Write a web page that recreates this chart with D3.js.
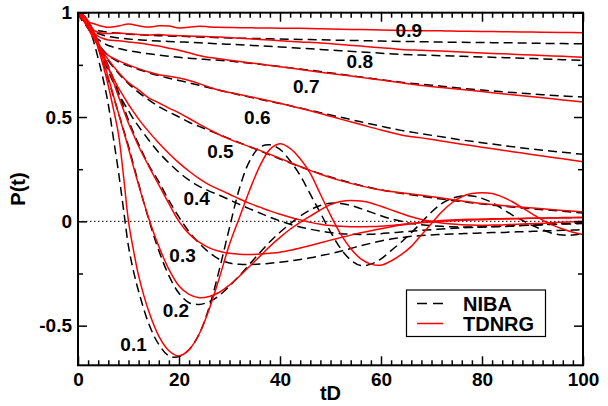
<!DOCTYPE html>
<html><head><meta charset="utf-8">
<script src="https://cdn.jsdelivr.net/npm/d3@7"></script>
<style>
html,body{margin:0;padding:0;background:#fff;}
svg{display:block;}
text{font-family:"Liberation Sans",Arial,Helvetica,sans-serif;font-weight:bold;fill:#000;}
</style></head><body>
<svg id="chart" width="608" height="406"></svg>
<script>
// ---------- data ----------
const tFast = [0,1,2,3,4,5,6,7,8,9,10,11,12,14,16,18,20,22,24,26,28,30,32,34,36,38,40,42,44,46,48,50,52,54,56,58,60,62,64,66,68,70,72,74,76,78,80,82,84,86,88,90,92,94,96,98,100];
const tSlow = [0,1,2,3,4,5,6,8,10,12,14,16,18,20,22,24,26,28,30,32,36,40,44,48,52,56,60,64,68,72,76,80,84,88,92,96,100];

const niba01 = [1,0.985,0.94,0.87,0.78,0.68,0.56,0.40,0.24,0.06,-0.12,-0.24,-0.335,-0.49,-0.59,-0.645,-0.648,-0.615,-0.54,-0.41,-0.23,-0.03,0.16,0.29,0.355,0.367,0.345,0.29,0.22,0.13,0.04,-0.05,-0.13,-0.185,-0.212,-0.205,-0.18,-0.14,-0.1,-0.055,-0.005,0.045,0.085,0.11,0.122,0.122,0.11,0.09,0.06,0.03,0.005,-0.02,-0.04,-0.058,-0.066,-0.066,-0.058];
const tdnrg01 = [1,0.99,0.955,0.9,0.83,0.745,0.65,0.54,0.42,0.22,0.0,-0.14,-0.26,-0.43,-0.55,-0.62,-0.645,-0.615,-0.54,-0.42,-0.27,-0.11,0.02,0.15,0.265,0.345,0.372,0.35,0.3,0.23,0.13,0.03,-0.06,-0.13,-0.18,-0.205,-0.21,-0.19,-0.16,-0.12,-0.065,-0.01,0.045,0.088,0.118,0.133,0.137,0.133,0.117,0.094,0.065,0.035,0.006,-0.018,-0.037,-0.052,-0.063];

const niba02 = [1,0.99,0.955,0.9,0.835,0.76,0.68,0.6,0.52,0.44,0.36,0.27,0.18,0.01,-0.14,-0.26,-0.345,-0.39,-0.398,-0.385,-0.355,-0.31,-0.26,-0.205,-0.15,-0.098,-0.052,-0.012,0.025,0.055,0.076,0.087,0.086,0.076,0.061,0.044,0.027,0.012,0.0,-0.01,-0.016,-0.021,-0.024,-0.026,-0.027,-0.027,-0.027,-0.026,-0.025,-0.023,-0.02,-0.018,-0.016,-0.013,-0.011,-0.009,-0.007];
const tdnrg02 = [1,0.99,0.96,0.91,0.845,0.77,0.69,0.605,0.52,0.435,0.35,0.26,0.175,0.015,-0.12,-0.23,-0.31,-0.35,-0.366,-0.36,-0.34,-0.305,-0.262,-0.215,-0.168,-0.12,-0.077,-0.038,-0.005,0.025,0.055,0.08,0.095,0.1,0.097,0.088,0.072,0.055,0.038,0.022,0.009,0.0,-0.008,-0.013,-0.016,-0.018,-0.019,-0.018,-0.017,-0.015,-0.013,-0.011,-0.009,-0.006,-0.004,-0.002,0.0];

const niba03 = [1,0.99,0.96,0.915,0.86,0.8,0.745,0.685,0.62,0.55,0.485,0.425,0.37,0.27,0.19,0.1,0.02,-0.05,-0.105,-0.15,-0.182,-0.2,-0.206,-0.207,-0.205,-0.201,-0.196,-0.19,-0.183,-0.175,-0.165,-0.155,-0.143,-0.13,-0.117,-0.105,-0.094,-0.085,-0.078,-0.072,-0.068,-0.065,-0.063,-0.061,-0.059,-0.057,-0.056,-0.054,-0.053,-0.051,-0.05,-0.048,-0.046,-0.045,-0.043,-0.042,-0.04];
const tdnrg03 = [1,0.99,0.96,0.915,0.86,0.8,0.74,0.67,0.6,0.535,0.47,0.415,0.36,0.265,0.175,0.085,0.0,-0.06,-0.1,-0.127,-0.143,-0.153,-0.158,-0.159,-0.157,-0.153,-0.148,-0.139,-0.128,-0.116,-0.103,-0.09,-0.078,-0.066,-0.055,-0.045,-0.035,-0.026,-0.018,-0.011,-0.005,0.0,0.004,0.007,0.009,0.01,0.011,0.012,0.013,0.014,0.014,0.015,0.015,0.016,0.016,0.017,0.017];

const niba04 = [1,0.985,0.95,0.9,0.84,0.78,0.72,0.665,0.615,0.57,0.53,0.49,0.455,0.39,0.33,0.28,0.235,0.197,0.168,0.145,0.125,0.103,0.081,0.06,0.04,0.02,0.002,-0.014,-0.027,-0.038,-0.047,-0.054,-0.059,-0.062,-0.063,-0.062,-0.059,-0.055,-0.051,-0.047,-0.043,-0.04,-0.037,-0.034,-0.031,-0.029,-0.027,-0.025,-0.023,-0.021,-0.019,-0.018,-0.016,-0.015,-0.013,-0.012,-0.01];
const tdnrg04 = [1,0.985,0.95,0.9,0.845,0.79,0.735,0.685,0.64,0.6,0.56,0.525,0.49,0.43,0.375,0.325,0.28,0.24,0.205,0.175,0.152,0.13,0.107,0.086,0.068,0.05,0.034,0.02,0.007,-0.005,-0.014,-0.02,-0.024,-0.026,-0.026,-0.025,-0.023,-0.02,-0.015,-0.01,-0.006,-0.003,0.0,0.003,0.005,0.007,0.008,0.01,0.011,0.012,0.014,0.015,0.016,0.017,0.018,0.019,0.02];

const niba05 = [1,0.97,0.93,0.885,0.845,0.805,0.77,0.71,0.66,0.618,0.582,0.55,0.524,0.5,0.475,0.455,0.435,0.416,0.396,0.377,0.338,0.299,0.262,0.228,0.198,0.172,0.151,0.134,0.12,0.107,0.095,0.083,0.073,0.064,0.056,0.048,0.04];
const tdnrg05 = [1,0.975,0.935,0.89,0.85,0.81,0.775,0.715,0.665,0.63,0.592,0.568,0.543,0.52,0.493,0.466,0.44,0.415,0.394,0.375,0.34,0.302,0.263,0.226,0.195,0.17,0.15,0.137,0.125,0.112,0.098,0.085,0.076,0.068,0.06,0.052,0.045];

const niba06 = [1,0.965,0.925,0.885,0.85,0.82,0.795,0.765,0.745,0.728,0.712,0.698,0.686,0.675,0.664,0.652,0.64,0.628,0.617,0.606,0.585,0.565,0.543,0.521,0.499,0.477,0.456,0.436,0.42,0.405,0.39,0.377,0.364,0.352,0.341,0.331,0.321];
const tdnrg06 = [1,0.97,0.925,0.88,0.845,0.815,0.795,0.77,0.75,0.732,0.716,0.703,0.695,0.687,0.675,0.66,0.643,0.628,0.618,0.608,0.588,0.566,0.542,0.517,0.49,0.464,0.438,0.414,0.4,0.385,0.37,0.355,0.341,0.327,0.313,0.3,0.286];

const niba07 = [1,0.96,0.925,0.895,0.872,0.855,0.843,0.828,0.818,0.81,0.803,0.797,0.791,0.786,0.782,0.778,0.775,0.772,0.768,0.763,0.753,0.742,0.73,0.718,0.705,0.692,0.679,0.667,0.657,0.648,0.638,0.629,0.621,0.614,0.607,0.601,0.596];
const tdnrg07 = [1,0.965,0.93,0.905,0.888,0.876,0.869,0.865,0.86,0.855,0.848,0.84,0.83,0.82,0.808,0.795,0.785,0.779,0.772,0.766,0.754,0.741,0.728,0.715,0.703,0.69,0.677,0.664,0.651,0.641,0.632,0.622,0.612,0.602,0.592,0.582,0.572];

const niba08 = [1,0.96,0.93,0.912,0.9,0.892,0.886,0.879,0.874,0.87,0.867,0.864,0.862,0.86,0.858,0.856,0.853,0.851,0.849,0.846,0.841,0.836,0.83,0.824,0.818,0.812,0.806,0.8,0.797,0.794,0.791,0.788,0.785,0.782,0.778,0.775,0.772];
const tdnrg08 = [1,0.965,0.935,0.917,0.906,0.901,0.9,0.903,0.899,0.895,0.893,0.895,0.892,0.89,0.888,0.887,0.885,0.883,0.881,0.878,0.872,0.866,0.86,0.855,0.848,0.84,0.832,0.824,0.82,0.816,0.812,0.807,0.803,0.799,0.795,0.791,0.787];

const niba09 = [1,0.955,0.935,0.923,0.915,0.91,0.906,0.901,0.897,0.894,0.892,0.89,0.888,0.887,0.885,0.883,0.882,0.88,0.879,0.878,0.876,0.874,0.872,0.87,0.868,0.866,0.864,0.862,0.861,0.859,0.858,0.857,0.856,0.855,0.853,0.852,0.851];
const tdnrg09 = [1,0.965,0.955,0.948,0.94,0.934,0.93,0.936,0.946,0.937,0.931,0.937,0.936,0.927,0.93,0.935,0.932,0.93,0.929,0.928,0.927,0.926,0.925,0.923,0.921,0.919,0.917,0.915,0.914,0.913,0.911,0.91,0.909,0.908,0.906,0.905,0.904];

const curveLabels = ["0.1","0.2","0.3","0.4","0.5","0.6","0.7","0.8","0.9"];
const labelT = [11.0, 19.4, 20.7, 23.5, 28.2, 35.5, 45.2, 55.8, 65.5];
const labelP = [-0.588, -0.425, -0.161, 0.109, 0.335, 0.497, 0.646, 0.766, 0.917];

const xMajorTicks = [0,20,40,60,80,100];
const yMajorTicks = [-0.5,0,0.5,1];
const yMinorTicks = [-0.25,0.25,0.75];
const legendNames = ["NIBA","TDNRG"];

// ---------- table built from arrays ----------
const series = [
  {t:tFast, niba:niba01, tdnrg:tdnrg01},
  {t:tFast, niba:niba02, tdnrg:tdnrg02},
  {t:tFast, niba:niba03, tdnrg:tdnrg03},
  {t:tFast, niba:niba04, tdnrg:tdnrg04},
  {t:tSlow, niba:niba05, tdnrg:tdnrg05},
  {t:tSlow, niba:niba06, tdnrg:tdnrg06},
  {t:tSlow, niba:niba07, tdnrg:tdnrg07},
  {t:tSlow, niba:niba08, tdnrg:tdnrg08},
  {t:tSlow, niba:niba09, tdnrg:tdnrg09}
];

// ---------- layout ----------
const X0 = 78, X1 = 583, Y0 = 365.3, Y1 = 12.7;
const FONT = "'Liberation Sans', Arial, Helvetica, sans-serif";
const x = d3.scaleLinear().domain([0,100]).range([X0,X1]);
const y = d3.scaleLinear().domain([-0.69,1]).range([Y0,Y1]);
const xMinorTicks = x.ticks(50).filter(v => xMajorTicks.indexOf(v) < 0);

const svg = d3.select("#chart");
svg.append("rect").attr("width",608).attr("height",406).attr("fill","#fff");
svg.append("defs").append("clipPath").attr("id","clip")
  .append("rect").attr("x",X0).attr("y",Y1).attr("width",X1-X0).attr("height",Y0-Y1);

// zero line
svg.append("line").attr("x1",X0).attr("x2",X1).attr("y1",y(0)).attr("y2",y(0))
  .attr("stroke","#000").attr("stroke-width",1).attr("stroke-dasharray","1.5,2.5");

const line = d3.line().x(d => x(d[0])).y(d => y(d[1])).curve(d3.curveCatmullRom.alpha(0.5));
const plot = svg.append("g").attr("clip-path","url(#clip)");
series.forEach(s => {
  plot.append("path").datum(d3.zip(s.t, s.niba)).attr("d", line)
    .attr("fill","none").attr("stroke","#000").attr("stroke-width",1.5).attr("stroke-dasharray","9,5");
});
series.forEach(s => {
  plot.append("path").datum(d3.zip(s.t, s.tdnrg)).attr("d", line)
    .attr("fill","none").attr("stroke","#ff0000").attr("stroke-width",1.5);
});

// axes
function styleAxis(g){
  g.attr("font-family",FONT).attr("font-size",19).attr("font-weight","bold");
  g.select(".domain").remove();
  g.selectAll(".tick line").attr("stroke","#000").attr("stroke-width",1.5);
}
const fmt = d => String(d);
svg.append("g").attr("transform",`translate(0,${Y0})`)
  .call(d3.axisBottom(x).tickValues(xMajorTicks).tickSize(-9).tickPadding(7).tickFormat(fmt)).call(styleAxis);
svg.append("g").attr("transform",`translate(0,${Y0})`)
  .call(d3.axisBottom(x).tickValues(xMinorTicks).tickSize(-5).tickFormat("")).call(styleAxis);
svg.append("g").attr("transform",`translate(0,${Y1})`)
  .call(d3.axisTop(x).tickValues(xMajorTicks).tickSize(-9).tickFormat("")).call(styleAxis);
svg.append("g").attr("transform",`translate(0,${Y1})`)
  .call(d3.axisTop(x).tickValues(xMinorTicks).tickSize(-5).tickFormat("")).call(styleAxis);
svg.append("g").attr("transform",`translate(${X0},0)`)
  .call(d3.axisLeft(y).tickValues(yMajorTicks).tickSize(-9).tickPadding(6).tickFormat(fmt)).call(styleAxis);
svg.append("g").attr("transform",`translate(${X0},0)`)
  .call(d3.axisLeft(y).tickValues(yMinorTicks).tickSize(-5).tickFormat("")).call(styleAxis);
svg.append("g").attr("transform",`translate(${X1},0)`)
  .call(d3.axisRight(y).tickValues(yMajorTicks).tickSize(-9).tickFormat("")).call(styleAxis);
svg.append("g").attr("transform",`translate(${X1},0)`)
  .call(d3.axisRight(y).tickValues(yMinorTicks).tickSize(-5).tickFormat("")).call(styleAxis);

// frame
svg.append("rect").attr("x",X0).attr("y",Y1).attr("width",X1-X0).attr("height",Y0-Y1)
  .attr("fill","none").attr("stroke","#000").attr("stroke-width",2);

// curve labels
curveLabels.forEach((lab,i) => {
  svg.append("text").attr("x",x(labelT[i])).attr("y",y(labelP[i])).attr("dy","0.36em")
    .attr("text-anchor","middle").attr("font-size",19).text(lab);
});

// axis titles
svg.append("text").attr("x",(X0+X1)/2).attr("y",400).attr("text-anchor","middle")
  .attr("font-size",20).text("tD");
svg.append("text").attr("transform",`translate(25,${(Y0+Y1)/2}) rotate(-90)`)
  .attr("text-anchor","middle").attr("font-size",20).text("P(t)");

// legend
const lg = svg.append("g");
lg.append("rect").attr("x",406.5).attr("y",290).attr("width",139).attr("height",46.5)
  .attr("fill","#fff").attr("stroke","#000").attr("stroke-width",1.2);
const legStyles = [{c:"#000",d:"10,6"},{c:"#ff0000",d:null}];
legendNames.forEach((n,i) => {
  const yy = 303.5 + i*20;
  const l = lg.append("line").attr("x1",417).attr("x2",443).attr("y1",yy).attr("y2",yy)
    .attr("stroke",legStyles[i].c).attr("stroke-width",1.5);
  if (legStyles[i].d) l.attr("stroke-dasharray",legStyles[i].d);
  lg.append("text").attr("x",463).attr("y",yy).attr("dy","0.36em").attr("font-size",20).text(n);
});
</script>
</body></html>
